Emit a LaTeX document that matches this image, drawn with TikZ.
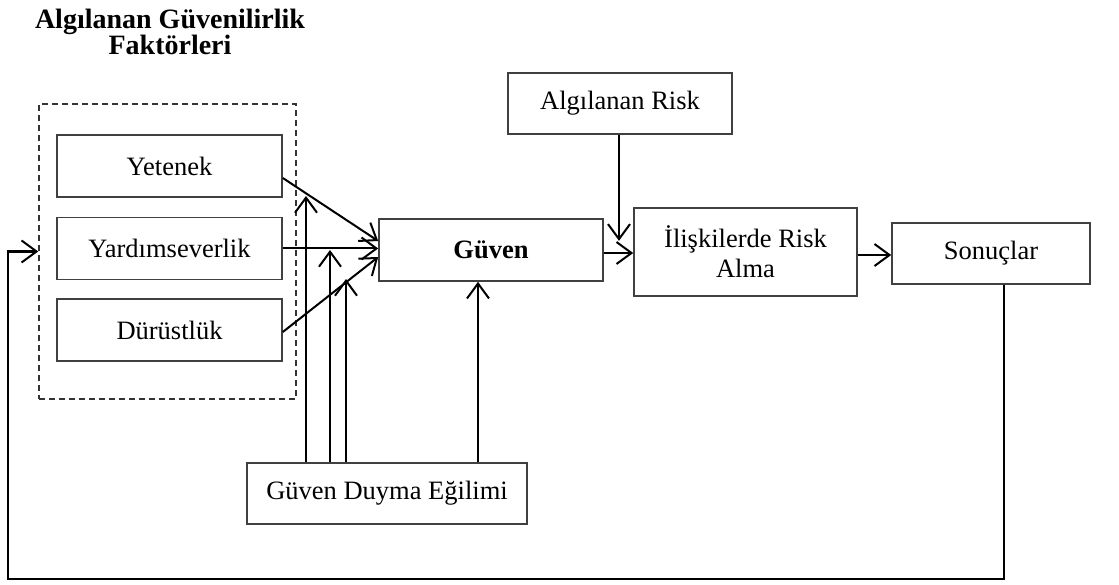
\documentclass[tikz,border=0pt]{standalone}
\usepackage{fontspec}
\setmainfont{Liberation Serif}
\usetikzlibrary{arrows.meta}
\begin{document}
\begin{tikzpicture}[x=1pt,y=-1pt,
  box/.style={draw=black!75,line width=1.6pt,minimum height=62pt,inner sep=0pt,
    font=\fontsize{26.5}{30}\selectfont,align=center},
  group/.style={draw=black!80,line width=1.5pt,dash pattern=on 6pt off 4pt},
  arr/.style={draw=black,line width=2pt,-{Straight Barb[length=15pt,width=22pt,line width=2pt]}},
  fbarr/.style={arr,line width=2.6pt}
]
\useasboundingbox (0,0) rectangle (1119,585);

% heading of the factor group
\node[font=\fontsize{28}{26}\selectfont\bfseries,align=center] (title) at (170,32)
  {Algılanan Güvenilirlik\\Faktörleri};

% dashed group frame
\node[group,minimum width=257pt,minimum height=295pt,inner sep=0pt] (grp) at (167.5,251.5) {};

% trustworthiness factors
\node[box,minimum width=225pt] (yet) at (169.5,166) {Yetenek};
\node[box,minimum width=225pt] (yar) at (169.5,248.5) {Yardımseverlik};
\node[box,minimum width=225pt] (dur) at (169.5,330) {Dürüstlük};

% main chain
\node[box,minimum width=224pt,font=\fontsize{26.5}{30}\selectfont\bfseries] (guv) at (491,250) {Güven};
\node[box,minimum width=224pt,minimum height=61pt] (ar) at (620,103.5) {Algılanan Risk};
\node[box,minimum width=223pt,minimum height=88pt] (ilr) at (745.5,252) {İlişkilerde Risk\\Alma};
\node[box,minimum width=198pt,minimum height=61pt] (son) at (991,253.5) {Sonuçlar};
\node[box,minimum width=280pt,minimum height=61pt] (gde) at (387,493.5) {Güven Duyma Eğilimi};

% factors to trust
\draw[arr] ([yshift=-12pt]yet.east) -- ([yshift=9pt]guv.west);
\draw[arr] (yar.east) -- (yar.east -| guv.west);
\draw[arr] ([yshift=-2pt]dur.east) -- ([yshift=-7pt]guv.west);

% propensity moderating each link
\coordinate (m1) at (306,196);
\coordinate (m2) at (330,250);
\coordinate (m3) at (346,279);
\draw[arr] (gde.north -| m1) -- (m1);
\draw[arr] (gde.north -| m2) -- (m2);
\draw[arr] (gde.north -| m3) -- (m3);
\draw[arr] ([xshift=91pt]gde.north) coordinate (g1) -- (g1 |- guv.south);

% perceived risk and outcomes
\draw[arr] ([xshift=-1pt]ar.south) -- ++(0,106);
\draw[arr] ([yshift=-3pt]guv.east) coordinate (g2) -- (g2 -| ilr.west);
\draw[arr] ([yshift=-3pt]ilr.east) coordinate (g3) -- (g3 -| son.west);

% feedback loop
\coordinate (fb) at (8,579);
\draw[fbarr] ([xshift=13pt]son.south) |- (fb) |- (grp.west);
\end{tikzpicture}
\end{document}
